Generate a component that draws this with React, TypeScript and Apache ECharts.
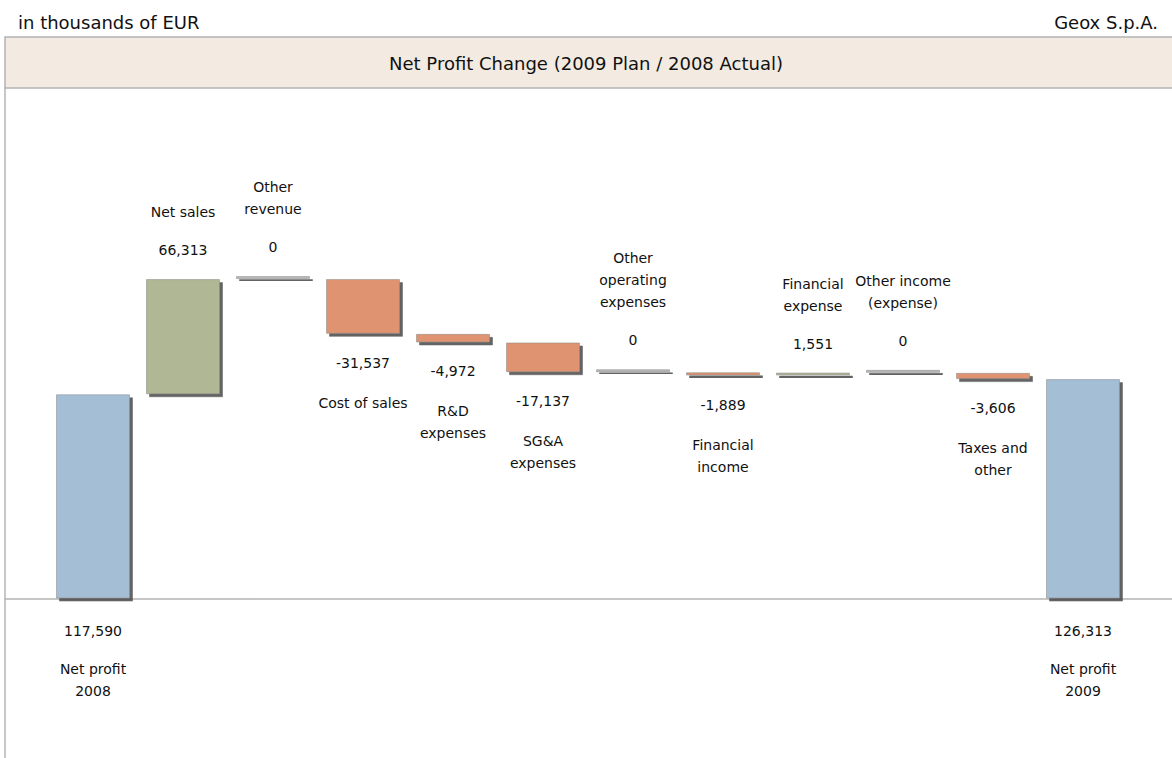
import React, { useEffect, useRef } from "react";
import * as echarts from "echarts";

const categoryLines: string[][] = [
  ["Net profit", "2008"],
  ["Net sales"],
  ["Other", "revenue"],
  ["Cost of sales"],
  ["R&D", "expenses"],
  ["SG&A", "expenses"],
  ["Other", "operating", "expenses"],
  ["Financial", "income"],
  ["Financial", "expense"],
  ["Other income", "(expense)"],
  ["Taxes and", "other"],
  ["Net profit", "2009"],
];
const kinds = ["total", "delta", "delta", "delta", "delta", "delta", "delta", "delta", "delta", "delta", "delta", "total"];
const values = [117590, 66313, 0, -31537, -4972, -17137, 0, -1889, 1551, 0, -3606, 126313];

const unitNote = "in thousands of EUR";
const company = "Geox S.p.A.";
const titleText = "Net Profit Change (2009 Plan / 2008 Actual)";

const COLORS = { total: "#a4bed6", up: "#b0b794", down: "#e0936f", zero: "#b9b9b9" };
const FONT = "DejaVu Sans";
const Y_MIN = -91800;
const Y_MAX = 293900;

export default function App() {
  const ref = useRef<HTMLDivElement>(null);
  useEffect(() => {
    if (!ref.current) return;
    const chart = echarts.init(ref.current, null, { renderer: "svg" });

    let running = 0;
    const baseData: number[] = [];
    const barData: any[] = [];
    values.forEach((v, i) => {
      let base = 0;
      let h = 0;
      let color = COLORS.total;
      let pos: "top" | "bottom" = "bottom";
      if (kinds[i] === "total") {
        base = 0;
        h = v;
        running = v;
        pos = "bottom";
      } else if (v >= 0) {
        base = running;
        h = v;
        running += v;
        color = v === 0 ? COLORS.zero : COLORS.up;
        pos = "top";
      } else {
        running += v;
        base = running;
        h = -v;
        color = COLORS.down;
        pos = "bottom";
      }
      const valStr = v.toLocaleString("en-US");
      const nameParts = categoryLines[i].map((l) => `{n|${l}}`);
      let fmt: string;
      if (pos === "top") {
        fmt = [...nameParts, "{s| }", `{v|${valStr}}`].join("\n");
      } else {
        fmt = [`{v|${valStr}}`, kinds[i] === "total" ? "{s| }" : "{s2| }", ...nameParts].join("\n");
      }
      baseData.push(base);
      barData.push({
        value: h,
        itemStyle: { color },
        label: {
          show: true,
          position: pos,
          distance: kinds[i] === "total" ? 21 : 18,
          formatter: fmt,
        },
      });
    });

    const rich = {
      n: { fontFamily: FONT, fontSize: 14, lineHeight: 22, color: "#111", align: "center" },
      v: { fontFamily: FONT, fontSize: 14, lineHeight: 22, color: "#111", align: "center" },
      s: { fontSize: 1, lineHeight: 16 },
      s2: { fontSize: 1, lineHeight: 18 },
    };

    const hidden = {
      axisLabel: { show: false },
      axisTick: { show: false },
      splitLine: { show: false },
      axisLine: { show: false },
    };

    chart.setOption({
      animation: false,
      grid: [
        { left: 48, right: 44, top: 88, bottom: 0, containLabel: false },
        { left: 5, right: 0, top: 88, bottom: 0, containLabel: false },
      ],
      xAxis: [
        { type: "category", gridIndex: 0, data: categoryLines.map((c) => c.join(" ")), ...hidden },
        {
          type: "value",
          gridIndex: 1,
          min: 0,
          max: 1,
          axisLabel: { show: false },
          axisTick: { show: false },
          splitLine: { show: false },
          axisLine: { show: true, onZero: true, lineStyle: { color: "#b4b4b4", width: 1.5 } },
        },
      ],
      yAxis: [
        { type: "value", gridIndex: 0, min: Y_MIN, max: Y_MAX, ...hidden },
        {
          type: "value",
          gridIndex: 1,
          min: Y_MIN,
          max: Y_MAX,
          axisLabel: { show: false },
          axisTick: { show: false },
          splitLine: { show: false },
          axisLine: { show: true, onZero: false, lineStyle: { color: "#b4b4b4", width: 1.5 } },
        },
      ],
      graphic: [
        {
          type: "rect",
          shape: { x: 5, y: 37, width: 1172, height: 51 },
          style: { fill: "#f3ebe1", stroke: "#b4b4b4", lineWidth: 1.5 },
          z: 0,
        },
        {
          type: "text",
          x: 586,
          y: 63,
          style: { text: titleText, fontFamily: FONT, fontSize: 18, fill: "#111", textAlign: "center", textVerticalAlign: "middle" },
        },
        {
          type: "text",
          x: 18,
          y: 22,
          style: { text: unitNote, fontFamily: FONT, fontSize: 18, fill: "#111", textAlign: "left", textVerticalAlign: "middle" },
        },
        {
          type: "text",
          x: 1158,
          y: 22,
          style: { text: company, fontFamily: FONT, fontSize: 18, fill: "#111", textAlign: "right", textVerticalAlign: "middle" },
        },
      ],
      series: [
        {
          type: "bar",
          xAxisIndex: 0,
          yAxisIndex: 0,
          stack: "w",
          data: baseData,
          barWidth: 74,
          itemStyle: { color: "transparent" },
          emphasis: { disabled: true },
          silent: true,
        },
        {
          type: "bar",
          xAxisIndex: 0,
          yAxisIndex: 0,
          stack: "w",
          data: barData,
          barWidth: 74,
          barMinHeight: 3,
          itemStyle: {
            borderColor: "rgba(140,140,140,0.55)",
            borderWidth: 1,
            shadowColor: "rgba(70,70,70,0.85)",
            shadowBlur: 1,
            shadowOffsetX: 3,
            shadowOffsetY: 3,
          },
          label: { rich, fontFamily: FONT },
        },
      ],
    });
    return () => chart.dispose();
  }, []);
  return <div ref={ref} style={{ position: "fixed", left: 0, top: 0, width: 1172, height: 758, background: "#fff" }} />;
}
